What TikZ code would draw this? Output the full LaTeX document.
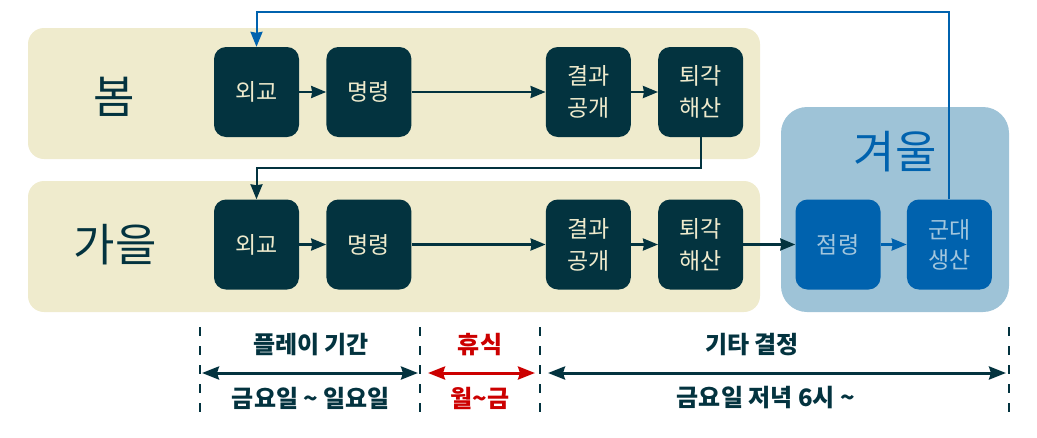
\documentclass[tikz,border=0pt]{standalone}
\usepackage{fontspec}
\setmainfont{Noto Sans CJK KR}
\usetikzlibrary{arrows.meta,positioning}

\definecolor{panelbg}{HTML}{EFEBCD}
\definecolor{boxdark}{HTML}{03333F}
\definecolor{winterbg}{HTML}{9EC3D7}
\definecolor{winterbox}{HTML}{0062AE}
\definecolor{wintertext}{HTML}{A3C6DD}
\definecolor{restred}{HTML}{CC0000}

\begin{document}
\begin{tikzpicture}[x=1pt, y=-1pt, >={Stealth[length=15pt,width=12pt,inset=1pt]}, node distance=27pt]
\tikzset{
  box/.style={draw=none, fill=boxdark, text=panelbg, rounded corners=12pt,
    minimum width=85pt, minimum height=90pt, inner sep=0pt, align=center,
    font=\fontsize{23}{32}\selectfont},
  wbox/.style={box, fill=winterbox, text=wintertext, font=\fontsize{23}{30}\selectfont},
  season/.style={text=boxdark, font=\fontsize{45}{47}\selectfont},
  link/.style={->, line width=2.5pt, draw=boxdark},
  wlink/.style={link, draw=winterbox},
  tick/.style={line width=2pt, draw=boxdark, dash pattern=on 9pt off 10pt},
  span/.style={<->, line width=3pt, draw=boxdark,
    >={Stealth[length=17pt,width=13pt,inset=2pt]}},
  note/.style={text=boxdark, font=\fontsize{24}{26}\selectfont\bfseries}
}
\useasboundingbox (0,0) rectangle (1037,437);
% season panels
\fill[panelbg, rounded corners=16pt] (28,28) rectangle (760,159);
\fill[panelbg, rounded corners=16pt] (28,181) rectangle (760,312);
\fill[winterbg, rounded corners=26pt] (781,107) rectangle (1009,312);

\node[season] (spring) at (114,97) {봄};
\node[season] (autumn) at (115,245) {가을};
\node[season, text=winterbox] (winter) at (895,152) {겨울};

% spring
\node[box]                      (sDip) at (256.5,92) {외교};
\node[box, right=of sDip]       (sCmd) {명령};
\node[box, right=134pt of sCmd] (sRes) {결과\\공개};
\node[box, right=of sRes]       (sRet) {퇴각\\해산};
% autumn
\node[box]                      (aDip) at (256.5,244.5) {외교};
\node[box, right=of aDip]       (aCmd) {명령};
\node[box, right=134pt of aCmd] (aRes) {결과\\공개};
\node[box, right=of aRes]       (aRet) {퇴각\\해산};
% winter
\node[wbox]                     (wOcc) at (838,244.5) {점령};
\node[wbox, right=26pt of wOcc] (wArmy) {군대\\생산};

\draw[link] (sDip) -- (sCmd);
\draw[link] (sCmd) -- (sRes);
\draw[link] (sRes) -- (sRet);
\draw[link] (aDip) -- (aCmd);
\draw[link] (aCmd) -- (aRes);
\draw[link] (aRes) -- (aRet);
\draw[link] (aRet) -- (wOcc);
\draw[wlink] (wOcc) -- (wArmy);
\draw[link, line width=2pt] (sRet.south) -- ++(0,31) -| (aDip.north);
\draw[wlink, line width=2pt] (wArmy.north) -- ++(0,-187) -| (sDip.north);

% schedule below
\foreach \x/\n in {200/d0, 420/d1, 540/d2, 1009/d3} {
  \coordinate (\n top) at (\x,327);
  \coordinate (\n bot) at (\x,413);
  \coordinate (\n) at (\x,373);
  \draw[tick] (\n top) -- (\n bot);
}
\draw[span, shorten <=2pt, shorten >=2pt] (d0) -- (d1);
\draw[span, draw=restred, shorten <=8pt, shorten >=5pt] (d1) -- (d2);
\draw[span, shorten <=8pt, shorten >=3pt] (d2) -- (d3);

\node[note] (playT) at (311,345) {플레이 기간};
\node[note] (playB) at (311,398) {금요일 \textasciitilde{} 일요일};
\node[note, text=restred] (restT) at (480,345) {휴식};
\node[note, text=restred] (restB) at (480,398) {월\textasciitilde{}금};
\node[note] (otherT) at (752,345) {기타 결정};
\node[note] (otherB) at (766,398) {금요일 저녁 6시 \textasciitilde};
\end{tikzpicture}
\end{document}
